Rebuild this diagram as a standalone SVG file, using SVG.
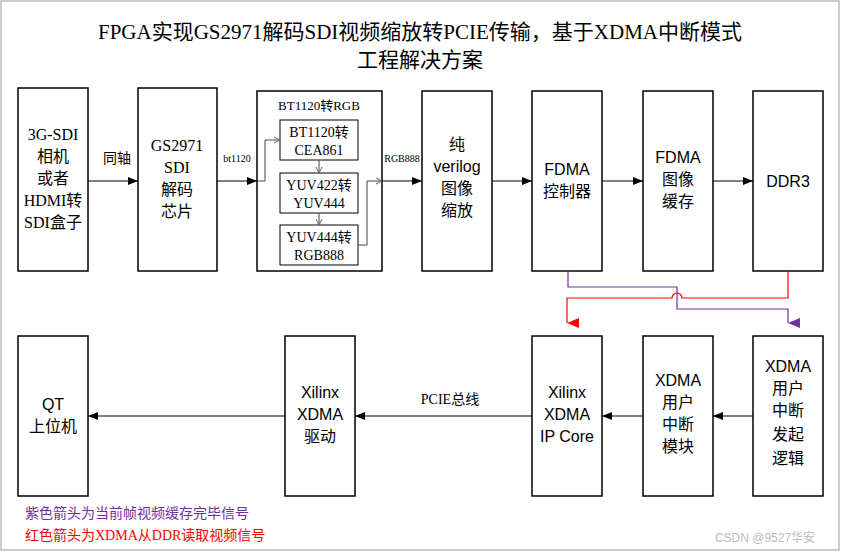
<svg xmlns="http://www.w3.org/2000/svg" width="841" height="552" viewBox="0 0 841 552">
<style>
.b{fill:#fff;stroke:#000;stroke-width:1.5}
.ib{fill:#fff;stroke:#000;stroke-width:1}
.s{font-family:"Liberation Serif","Noto Sans CJK SC",serif;font-size:16px;text-anchor:middle}
.a{font-family:"Liberation Sans","Noto Sans CJK SC",sans-serif;font-size:16px;text-anchor:middle}
.l{fill:none;stroke:#000;stroke-width:1.2}
</style>
<defs>
<marker id="m" markerWidth="10" markerHeight="8" refX="10" refY="4" orient="auto" markerUnits="userSpaceOnUse"><path d="M0,0L10,4L0,8z" fill="#000"/></marker>
<marker id="o" markerWidth="8" markerHeight="8" refX="7" refY="4" orient="auto" markerUnits="userSpaceOnUse"><path d="M1,1L7,4L1,7" fill="none" stroke="#666"/></marker>
<marker id="r" markerWidth="10" markerHeight="12" refX="5" refY="12" orient="auto-start-reverse" markerUnits="userSpaceOnUse"><path d="M0,0L10,0L5,12z" fill="#f00"/></marker>
<marker id="p" markerWidth="10" markerHeight="12" refX="5" refY="12" orient="auto-start-reverse" markerUnits="userSpaceOnUse"><path d="M0,0L10,0L5,12z" fill="#7030a0"/></marker>
</defs>
<rect x="0" y="0" width="841" height="552" fill="#fff"/>
<rect x="1" y="1" width="838" height="549" fill="none" stroke="#999"/>
<text x="420" y="39" class="s" style="font-size:21px">FPGA实现GS2971解码SDI视频缩放转PCIE传输，基于XDMA中断模式</text>
<text x="420" y="67" class="s" style="font-size:21px">工程解决方案</text>
<g id="n1"><rect class="b" x="18" y="88" width="70" height="183"/><text class="s" x="53" y="140">3G-SDI</text><text class="s" x="53" y="162">相机</text><text class="s" x="53" y="184">或者</text><text class="s" x="53" y="206">HDMI转</text><text class="s" x="53" y="228">SDI盒子</text></g>
<g id="n2"><rect class="b" x="138" y="88" width="79" height="183"/><text class="s" x="177" y="151">GS2971</text><text class="s" x="177" y="173">SDI</text><text class="s" x="177" y="195">解码</text><text class="s" x="177" y="217">芯片</text></g>
<g id="n3"><rect class="b" x="257" y="91" width="125" height="180"/><text class="s" x="319" y="110" style="font-size:13px">BT1120转RGB</text>
<rect class="ib" x="280" y="120" width="78" height="40"/><text class="s" x="319" y="137" style="font-size:14px">BT1120转</text><text class="s" x="319" y="155" style="font-size:14px">CEA861</text>
<rect class="ib" x="280" y="173" width="78" height="40"/><text class="s" x="319" y="190" style="font-size:14px">YUV422转</text><text class="s" x="319" y="208" style="font-size:14px">YUV444</text>
<rect class="ib" x="280" y="225" width="78" height="40"/><text class="s" x="319" y="242" style="font-size:14px">YUV444转</text><text class="s" x="319" y="260" style="font-size:14px">RGB888</text></g>
<g id="n4"><rect class="b" x="422" y="91" width="70" height="180"/><text class="a" x="457" y="150">纯</text><text class="a" x="457" y="172">verilog</text><text class="a" x="457" y="194">图像</text><text class="a" x="457" y="216">缩放</text></g>
<g id="n5"><rect class="b" x="532" y="91" width="70" height="180"/><text class="a" x="567" y="175">FDMA</text><text class="a" x="567" y="197">控制器</text></g>
<g id="n6"><rect class="b" x="643" y="91" width="70" height="180"/><text class="a" x="678" y="163">FDMA</text><text class="a" x="678" y="185">图像</text><text class="a" x="678" y="207">缓存</text></g>
<g id="n7"><rect class="b" x="753" y="91" width="70" height="180"/><text class="a" x="788" y="187">DDR3</text></g>
<g id="n8"><rect class="b" x="18" y="336" width="70" height="160"/><text class="a" x="53" y="410">QT</text><text class="a" x="53" y="432">上位机</text></g>
<g id="n9"><rect class="b" x="285" y="336" width="70" height="160"/><text class="a" x="320" y="398">Xilinx</text><text class="a" x="320" y="420">XDMA</text><text class="a" x="320" y="442">驱动</text></g>
<g id="n10"><rect class="b" x="532" y="336" width="70" height="160"/><text class="a" x="567" y="398">Xilinx</text><text class="a" x="567" y="420">XDMA</text><text class="a" x="567" y="442">IP Core</text></g>
<g id="n11"><rect class="b" x="643" y="336" width="70" height="160"/><text class="a" x="678" y="386">XDMA</text><text class="a" x="678" y="408">用户</text><text class="a" x="678" y="430">中断</text><text class="a" x="678" y="452">模块</text></g>
<g id="n12"><rect class="b" x="753" y="336" width="70" height="160"/><text class="a" x="788" y="372">XDMA</text><text class="a" x="788" y="394">用户</text><text class="a" x="788" y="416">中断</text><text class="a" x="788" y="440">发起</text><text class="a" x="788" y="464">逻辑</text></g>
<g id="connectors">
<line class="l" x1="88" y1="181" x2="138" y2="181" marker-end="url(#m)"/><text class="a" x="117" y="163" style="font-size:14px">同轴</text>
<line class="l" x1="217" y1="181" x2="257" y2="181" marker-end="url(#m)"/><text class="s" x="237" y="162" style="font-size:10px">bt1120</text>
<polyline class="l" style="stroke:#444;stroke-width:1" points="257,181 265,181 265,140 280,140" marker-end="url(#o)"/>
<line class="l" style="stroke:#444;stroke-width:1" x1="319" y1="160" x2="319" y2="173" marker-end="url(#o)"/>
<line class="l" style="stroke:#444;stroke-width:1" x1="319" y1="213" x2="319" y2="225" marker-end="url(#o)"/>
<polyline class="l" style="stroke:#444;stroke-width:1" points="358,245 367,245 367,181 382,181" marker-end="url(#o)"/>
<line class="l" x1="382" y1="181" x2="422" y2="181" marker-end="url(#m)"/><text class="s" x="402" y="162" style="font-size:10px">RGB888</text>
<line class="l" x1="492" y1="181" x2="532" y2="181" marker-end="url(#m)"/>
<line class="l" x1="602" y1="181" x2="643" y2="181" marker-end="url(#m)"/>
<line class="l" x1="713" y1="181" x2="753" y2="181" marker-end="url(#m)"/>
<path d="M568,271V287H677V309H788V323" fill="none" stroke="#7030a0" stroke-width="1.2" marker-end="url(#p)"/>
<path d="M788,271V298H682a5,5 0 0 0 -10,0H567V323" fill="none" stroke="#f00" stroke-width="1.2" marker-end="url(#r)"/>
<line class="l" x1="753" y1="416" x2="713" y2="416" marker-end="url(#m)"/>
<line class="l" x1="643" y1="416" x2="602" y2="416" marker-end="url(#m)"/>
<line class="l" x1="532" y1="416" x2="355" y2="416" marker-end="url(#m)"/><text class="s" x="450" y="404" style="font-size:14px">PCIE总线</text>
<line class="l" x1="285" y1="416" x2="88" y2="416" marker-end="url(#m)"/>
</g>
<text class="s" x="25" y="518" style="font-size:14px;text-anchor:start;fill:#7030a0">紫色箭头为当前帧视频缓存完毕信号</text>
<text class="s" x="25" y="540" style="font-size:14px;text-anchor:start;fill:#f00">红色箭头为XDMA从DDR读取视频信号</text>
<text class="a" x="765" y="542" style="font-size:12px;fill:#bbb">CSDN @9527华安</text>
</svg>
